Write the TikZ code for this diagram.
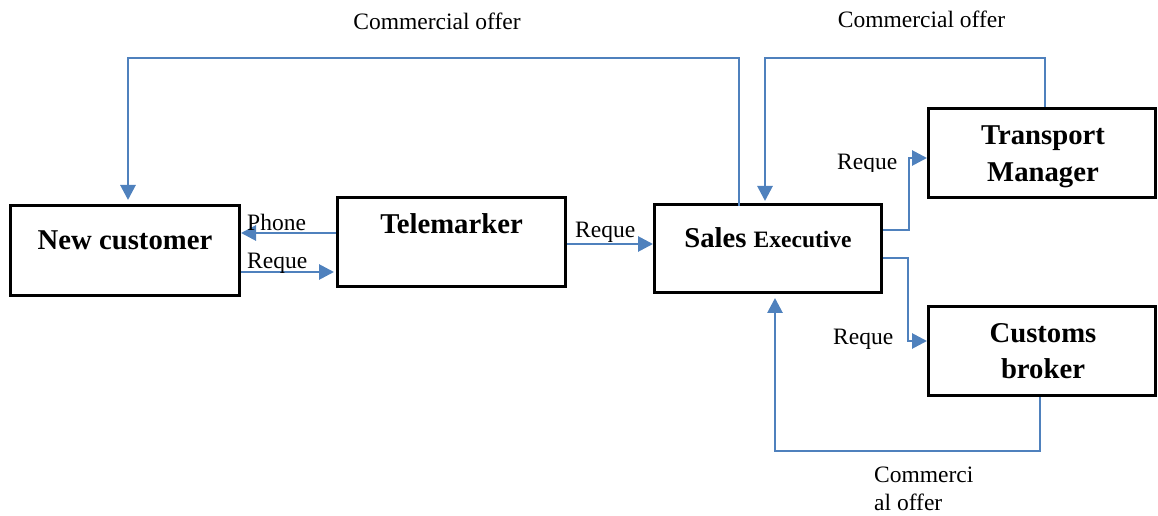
\documentclass[tikz,border=0pt]{standalone}
\usepackage{fontspec}
\setmainfont{Liberation Serif}
\usetikzlibrary{arrows.meta}
\definecolor{flowblue}{HTML}{4F81BD}
\tikzset{
  box/.style={draw=black, line width=3bp, fill=white, inner sep=0pt},
  title/.style={font=\bfseries\fontsize{28.7bp}{37bp}\selectfont, inner sep=0pt},
  lbl/.style={font=\fontsize{23.5bp}{28.5bp}\selectfont, inner sep=0pt},
  flow/.style={draw=flowblue, line width=2.8bp},
  flowarr/.style={flow, -{Triangle[length=15bp,width=15bp]}}
}
\begin{document}
\begin{tikzpicture}[x=1bp, y=-1bp]
\useasboundingbox (0,0) rectangle (1158,516);

% boxes
\node[box, minimum width=229bp, minimum height=90bp] (nc) at (125,250.5) {};
\node[box, minimum width=228bp, minimum height=89bp] (tm) at (451.5,242) {};
\node[box, minimum width=227bp, minimum height=88bp] (se) at (768,248.5) {};
\node[box, minimum width=227bp, minimum height=89bp] (tr) at (1042,153) {};
\node[box, minimum width=227bp, minimum height=89bp] (cb) at (1042,351) {};

% box titles
\node[title, anchor=base] (nct) at (125,250) {New customer};
\node[title, anchor=base] (tmt) at (451.5,234) {Telemarker};
\node[title, anchor=base] (set) at (768,248) {Sales {\fontsize{23.5bp}{28bp}\selectfont Executive}};
\node[title, anchor=base] (trt1) at (1043,145) {Transport};
\node[title, anchor=base] (trt2) at (1043,182) {Manager};
\node[title, anchor=base] (cbt1) at (1043,343) {Customs};
\node[title, anchor=base] (cbt2) at (1043,379) {broker};

% bend points of the connectors
\coordinate (p1) at (290,233);
\coordinate (p2) at (290,272);
\coordinate (p3) at (610,244);
\coordinate (a1) at (739,58);
\coordinate (a2) at (128,58);
\coordinate (b1) at (1045,58);
\coordinate (b2) at (765,58);
\coordinate (c1) at (909,230);
\coordinate (c2) at (909,158);
\coordinate (d1) at (908,258);
\coordinate (d2) at (908,341);
\coordinate (e1) at (1040,451);
\coordinate (e2) at (775,451);

% connectors
\draw[flowarr] (tm.west |- p1) -- (nc.east |- p1);
\draw[flowarr, shorten >=2bp] (nc.east |- p2) -- (tm.west |- p2);
\draw[flowarr] (tm.east |- p3) -- (se.west |- p3);
\draw[flowarr, shorten >=4bp] ([yshift=-3bp]se.north -| a1) -- (a1) -- (a2) -- (nc.north -| a2);
\draw[flowarr, shorten >=2bp] (tr.north -| b1) -- (b1) -- (b2) -- (se.north -| b2);
\draw[flowarr] (se.east |- c1) -- (c1) -- (c2) -- (tr.west |- c2);
\draw[flowarr] (se.east |- d1) -- (d1) -- (d2) -- (cb.west |- d2);
\draw[flowarr, shorten >=4bp] (cb.south -| e1) -- (e1) -- (e2) -- (se.south -| e2);

% connector labels
\node[lbl, anchor=base] (l1) at (437,30) {Commercial offer};
\node[lbl, anchor=base] (l2) at (921.5,28) {Commercial offer};
\node[lbl, anchor=base west] (l3) at (247,231) {Phone};
\node[lbl, anchor=base west] (l4) at (247,269) {Reque};
\node[lbl, anchor=base west] (l5) at (575,238) {Reque};
\begin{scope}
  \clip (830,140) rectangle (905,171.5);
  \node[lbl, anchor=base west] (l6) at (837,170) {Reque};
\end{scope}
\node[lbl, anchor=base west] (l7) at (833,345) {Reque};
\node[lbl, anchor=base west] (l8) at (874,482) {Commerci};
\node[lbl, anchor=base west] (l9) at (874,510) {al offer};
\end{tikzpicture}
\end{document}
